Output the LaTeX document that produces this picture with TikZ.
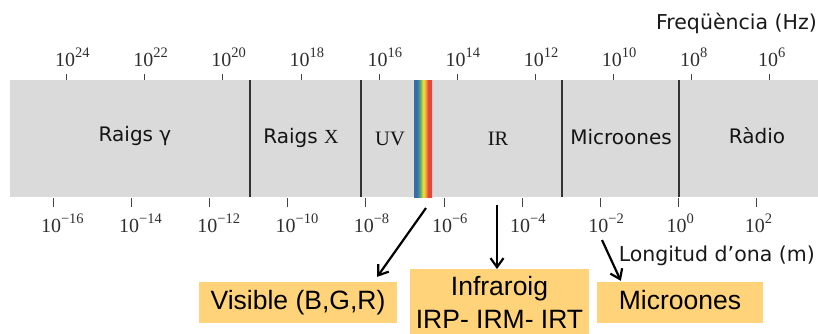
\documentclass[tikz,border=0pt]{standalone}
\usepackage{fontspec}
\setmainfont{Liberation Serif}
\newfontfamily\labelsans{DejaVu Sans}
\newfontfamily\boxsans{Liberation Sans}
\usetikzlibrary{arrows.meta}

\definecolor{bandgray}{HTML}{DADADA}
\definecolor{divider}{HTML}{333333}
\definecolor{tickgray}{HTML}{444444}
\definecolor{numgray}{HTML}{2E2E2E}
\definecolor{boxfill}{HTML}{FFD37A}
\definecolor{specblue}{HTML}{3A6DA8}
\definecolor{specteal}{HTML}{3E8FA0}
\definecolor{specgreen}{HTML}{6DB35A}
\definecolor{specyellow}{HTML}{F2E23C}
\definecolor{specorange}{HTML}{F29A3A}
\definecolor{specred}{HTML}{E2483A}

% visible-light strip: the middle 50bp of the shading spans the strip
\pgfdeclarehorizontalshading{spectrumbar}{100bp}{%
  color(0bp)=(specblue); color(33bp)=(specblue); color(38bp)=(specteal);
  color(43bp)=(specgreen); color(51bp)=(specyellow); color(58bp)=(specorange);
  color(64bp)=(specred); color(100bp)=(specred)}

% power of ten, centred on the mantissa, exponent hanging to the right
\newcommand\tenpow[1]{10\rlap{\raisebox{8.5pt}{\fontsize{14.5}{14.5}\selectfont #1}}}

\tikzset{
  bandlbl/.style={anchor=base, inner sep=0pt, text=black!92,
    font=\labelsans\fontsize{20}{20}\selectfont},
  seriflbl/.style={anchor=base, inner sep=0pt, text=black!92,
    font=\rmfamily\fontsize{20.5}{20.5}\selectfont},
  numlbl/.style={anchor=base, inner sep=0pt, text=numgray,
    font=\rmfamily\fontsize{20}{20}\selectfont},
  axistitle/.style={anchor=base east, inner sep=0pt, text=black!90,
    font=\labelsans\fontsize{20.5}{20.5}\selectfont},
  infobox/.style={fill=boxfill, inner sep=0pt, text=black,
    font=\boxsans\fontsize{26.5}{33}\selectfont},
  tick/.style={draw=tickgray, line width=0.9pt},
  bandline/.style={draw=divider, line width=1.7pt},
  pointer/.style={-{Straight Barb[length=9pt,width=13pt]}, line width=2.2pt, black},
}

\begin{document}
\begin{tikzpicture}[x=1pt,y=-1pt]
\useasboundingbox (0,0) rectangle (818,333);

% spectrum band
\fill[bandgray] (10,80) rectangle (818,197);
\shade[shading=spectrumbar] (414,80) rectangle (432,197);
\foreach \xd in {250,361,562,679}
  \draw[bandline] (\xd,80) -- (\xd,197);

% band names
\node[bandlbl] (gamma) at (135,141) {Raigs γ};
\node[bandlbl] (xray) at (301,143) {Raigs {\rmfamily X}};
\node[seriflbl] (uv) at (390,145) {UV};
\node[seriflbl] (ir) at (498,145) {IR};
\node[bandlbl] (micro) at (621,144) {Microones};
\node[bandlbl] (radio) at (757,143) {Ràdio};

% frequency scale
\foreach \e [count=\i from 0] in {24,22,20,18,16,14,12,10,8,6}{
  \pgfmathsetmacro\xx{66.7+78.1*\i}
  \draw[tick] (\xx,74) -- (\xx,80);
  \node[numlbl] (f\i) at (\xx-1.5,66) {\tenpow{\e}};
}
\node[axistitle] (freq) at (817,29) {Freqüència (Hz)};

% wavelength scale
\foreach \e [count=\i from 0] in {−16,−14,−12,−10,−8,−6,−4,−2,0,2}{
  \pgfmathsetmacro\xx{53+78.2*\i}
  \draw[tick] (\xx,198) -- (\xx,207);
  \node[numlbl] (w\i) at (\xx-2,232) {\tenpow{\e}};
}
\node[axistitle] (wave) at (815,261) {Longitud d’ona (m)};

% callout boxes
\node[infobox, minimum width=198pt, minimum height=41pt,
      text height=19pt, text depth=5.5pt] (vis) at (298,302.5) {Visible (B,G,R)};
\node[infobox, anchor=north, minimum width=179pt, inner ysep=6.7pt,
      align=center] (irbox) at (499.5,269) {Infraroig\\IRP- IRM- IRT};
\node[infobox, minimum width=166pt, minimum height=41pt,
      text height=19pt, text depth=5.5pt] (mic) at (680,302.5) {Microones};

% pointers
\coordinate (visfrom) at (426,208);
\coordinate (irfrom) at (497,205);
\coordinate (micfrom) at (602,240);
\draw[pointer] (visfrom) -- ([shift={(-20pt,5pt)}]vis.north east);
\draw[pointer] (irfrom) -- (irfrom |- irbox.north);
\draw[pointer] (micfrom) -- ([shift={(24pt,1pt)}]mic.north west);
\end{tikzpicture}
\end{document}
